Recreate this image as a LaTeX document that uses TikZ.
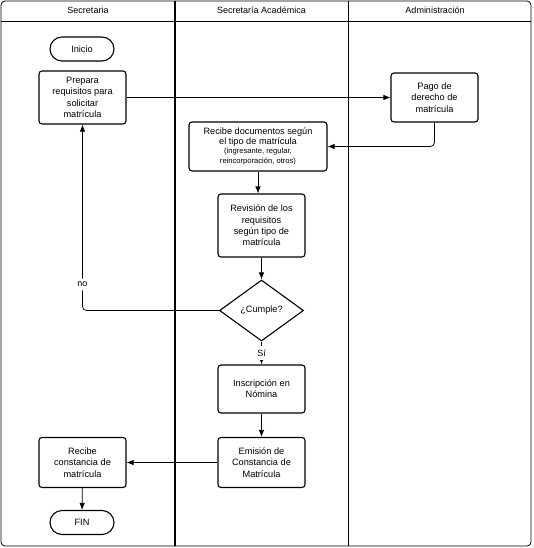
\documentclass[tikz,border=0pt]{standalone}
\usepackage{fontspec}
\setmainfont{Liberation Sans}
\usepackage{tikz}
\usetikzlibrary{arrows.meta,shapes}
\newcommand{\smallfont}{\fontsize{7.6}{9.2}\selectfont}
\tikzstyle{process}=[rectangle,draw,line width=1.1pt,rounded corners=3pt,minimum width=87pt,align=center,inner sep=1pt,font=\fontsize{9.2}{11.3}\selectfont]
\tikzstyle{terminal}=[rectangle,draw,line width=1.1pt,rounded corners=12pt,minimum width=64pt,minimum height=24pt,inner sep=0pt,font=\fontsize{9.2}{11.3}\selectfont]
\tikzstyle{decision}=[diamond,draw,line width=1.1pt,aspect=1.38,minimum width=84pt,minimum height=61pt,inner sep=0pt,font=\fontsize{9.2}{11.3}\selectfont]
\tikzstyle{lane title}=[font=\fontsize{9}{11}\selectfont]
\tikzstyle{edge} = [draw,line width=0.75pt,-{Latex[length=7pt,width=5.5pt]}]

\begin{document}
\begin{tikzpicture}[x=1pt,y=-1pt]
        \useasboundingbox (0,0) rectangle (533,548);
        % lanes
        \draw[line width=0.8pt,rounded corners=4pt] (1,1) rectangle (531,546);
        \draw[line width=0.8pt] (1,21) -- (531,21);
        \draw[line width=1.5pt] (175,1) -- (175,546);
        \draw[line width=0.8pt] (348,1) -- (348,546);
        \node[lane title] (lane1) at (88,10.5) {Secretaria};
        \node[lane title] (lane2) at (261.5,10.5) {Secretaría Académica};
        \node[lane title] (lane3) at (435,10.5) {Administración};
        % steps
        \node[terminal] (inicio) at (82,49) {Inicio};
        \node[process,minimum height=53pt] (prepara) at (82.5,97.5) {Prepara\\requisitos para\\solicitar\\matrícula};
        \node[process,minimum height=49pt] (pago) at (434.5,97.5) {Pago de\\derecho de\\matrícula};
        \node[process,minimum width=138pt,minimum height=49pt,font=\fontsize{9.2}{9.8}\selectfont] (recibedoc) at (258,146.5) {Recibe documentos según\\el tipo de matrícula\\\smallfont (ingresante, regular,\\\smallfont reincorporación, otros)};
        \node[process,minimum height=63pt] (revision) at (261.5,225.5) {Revisión de los\\requisitos\\según tipo de\\matrícula};
        \node[decision] (cumple) at (261.5,310.5) {¿Cumple?};
        \node[process,minimum height=48pt] (inscripcion) at (261.5,389) {Inscripción en\\Nómina};
        \node[process,minimum height=50pt] (emision) at (261.5,462.5) {Emisión de\\Constancia de\\Matrícula};
        \node[process,minimum height=50pt] (recibeconst) at (82.5,462.5) {Recibe\\constancia de\\matrícula};
        \node[terminal] (fin) at (82,522.5) {FIN};
        % flow
        \draw[edge] (prepara) to (pago);
        \draw[edge,rounded corners=4pt] (pago.south) |- (recibedoc.east);
        \draw[edge] (recibedoc.south) to (recibedoc.south |- revision.north);
        \draw[edge] (revision) to (cumple);
        \draw[edge,rounded corners=4pt] (cumple.west) -| (prepara.south) node[pos=0.57,fill=white,lane title] {no};
        \draw[edge] (cumple) to node[fill=white,lane title] {Sí} (inscripcion);
        \draw[edge] (inscripcion) to (emision);
        \draw[edge] (emision) to (recibeconst);
        \draw[edge] (recibeconst) to (fin);
      \end{tikzpicture}
\end{document}
